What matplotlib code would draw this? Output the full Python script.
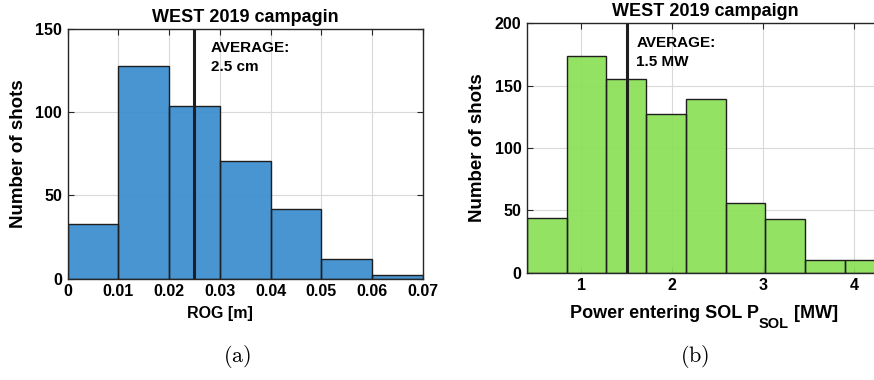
import matplotlib
matplotlib.use("Agg")
import matplotlib.pyplot as plt
import numpy as np

plt.rcParams['font.family'] = ['Liberation Sans', 'DejaVu Sans']
plt.rcParams['font.weight'] = 'bold'

# ROG histogram (a)
rog_edges = [0.0, 0.01, 0.02, 0.03, 0.04, 0.05, 0.06, 0.07]
rog_counts = [33, 128, 104, 71, 42, 12, 2]
rog_avg = 0.025
rog_ticks = [0, 0.01, 0.02, 0.03, 0.04, 0.05, 0.06, 0.07]
rog_ticklabels = ['0', '0.01', '0.02', '0.03', '0.04', '0.05', '0.06', '0.07']

# P_SOL histogram (b)
psol_edges = [0.402, 0.839, 1.275, 1.712, 2.148, 2.585, 3.021, 3.458, 3.894, 4.331]
psol_counts = [44, 174, 155, 127, 139, 56, 43, 10, 10]
psol_avg = 1.5
psol_ticks = [1, 2, 3, 4]

fig = plt.figure(figsize=(8.74, 3.8), dpi=100)
W, H = 874, 380


def px_axes(x0, x1, ytop, ybot):
    return fig.add_axes([x0 / W, 1 - ybot / H, (x1 - x0) / W, (ybot - ytop) / H])


def style(ax):
    ax.set_axisbelow(True)
    ax.grid(True, color='#d9d9d9', linewidth=0.8)
    ax.tick_params(direction='in', top=True, right=True, length=4,
                   labelsize=11.5, color='#262626', width=0.8, pad=4)
    for s in ax.spines.values():
        s.set_color('#262626')
        s.set_linewidth(1.0)


# left panel
ax1 = px_axes(67.7, 422.7, 29, 278.7)
ax1.stairs(rog_counts, rog_edges, fill=True, facecolor='#3a8dcf', alpha=0.93)
ax1.bar(rog_edges[:-1], rog_counts, width=np.diff(rog_edges), align='edge',
        facecolor='none', edgecolor='#1e1e1e', linewidth=1.0)
ax1.axvline(rog_avg, color='#1e1e1e', linewidth=2.2)
ax1.set_xlim(rog_edges[0], rog_edges[-1])
ax1.set_ylim(0, 150)
ax1.set_yticks([0, 50, 100, 150])
ax1.set_xticks(rog_ticks)
ax1.set_xticklabels(rog_ticklabels)
style(ax1)
ax1.text(0.0282, 143, 'AVERAGE:\n2.5 cm', fontsize=11, fontweight='bold',
         va='top', ha='left', linespacing=1.45)
ax1.set_title('WEST 2019 campagin', fontsize=13, fontweight='bold', pad=5)
ax1.set_ylabel('Number of shots', fontsize=13.5, fontweight='bold', labelpad=6)
fig.text(220 / W, 1 - 318 / H, 'ROG [m]', fontsize=11.5, fontweight='bold',
         ha='center', va='baseline')

# right panel
ax2 = px_axes(527, 527 + (psol_edges[-1] - psol_edges[0]) * 91, 23.3, 272.7)
ax2.stairs(psol_counts, psol_edges, fill=True, facecolor='#8ce058', alpha=0.93)
ax2.bar(psol_edges[:-1], psol_counts, width=np.diff(psol_edges), align='edge',
        facecolor='none', edgecolor='#1e1e1e', linewidth=1.0)
ax2.axvline(psol_avg, color='#1e1e1e', linewidth=2.2)
ax2.set_xlim(psol_edges[0], psol_edges[-1])
ax2.set_ylim(0, 200)
ax2.set_yticks([0, 50, 100, 150, 200])
ax2.set_xticks(psol_ticks)
style(ax2)
ax2.text(1.604, 190, 'AVERAGE:\n1.5 MW', fontsize=11, fontweight='bold',
         va='top', ha='left', linespacing=1.45)
ax2.set_title('WEST 2019 campaign', fontsize=13, fontweight='bold', pad=5)
ax2.set_ylabel('Number of shots', fontsize=13.5, fontweight='bold', labelpad=6)

# x label with a large, low subscript, built from pieces
renderer = fig.canvas.get_renderer()
parts = [('Power entering SOL P', 13, 0), ('SOL', 10.5, -10), (' [MW]', 13, 0)]
widths = []
for s, fs, dy in parts:
    t = fig.text(0, 0, s, fontsize=fs, fontweight='bold')
    widths.append(t.get_window_extent(renderer).width)
    t.remove()
x = 704 - sum(widths) / 2
for (s, fs, dy), w in zip(parts, widths):
    fig.text(x / W, 1 - (318 - dy) / H, s, fontsize=fs, fontweight='bold',
             ha='left', va='baseline')
    x += w

# panel captions
fig.text(237 / W, 1 - 362 / H, r'$\mathrm{(a)}$', fontsize=16, ha='center',
         va='baseline', math_fontfamily='cm')
fig.text(695 / W, 1 - 362 / H, r'$\mathrm{(b)}$', fontsize=16, ha='center',
         va='baseline', math_fontfamily='cm')

fig.savefig('out.png', dpi=100)
